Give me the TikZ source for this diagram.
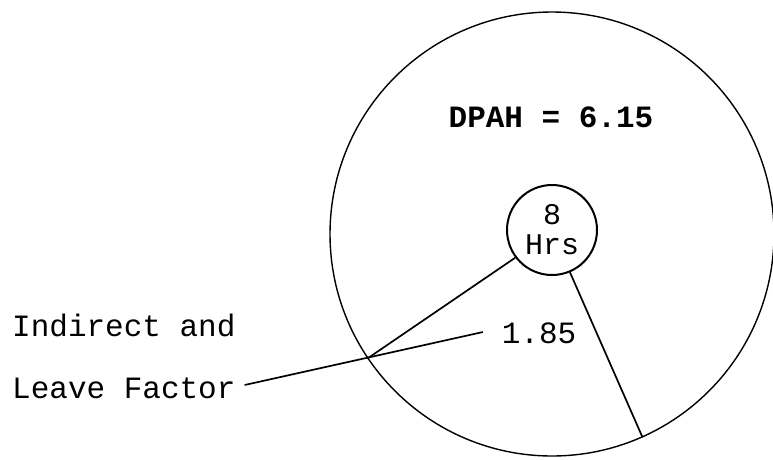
\documentclass[tikz,border=0pt]{standalone}
\usepackage{fontspec}
\newfontfamily\tw{Liberation Mono}
\begin{document}
\begin{tikzpicture}[x=1pt,y=-1pt,
  lbl/.style={font=\tw\fontsize{31}{31}\selectfont, inner sep=0pt},
  ring/.style={draw, circle, inner sep=0pt, line width=1.4pt},
  link/.style={line width=1.7pt}]
\useasboundingbox (0,0) rectangle (773,459);
\node[ring, minimum size=444pt] (big) at (552,234) {};
\node[ring, minimum size=90pt, line width=2pt, align=center, font=\tw\fontsize{30}{30}\selectfont] (small) at (552,230) {8\\Hrs};
\node[lbl, font=\tw\bfseries\fontsize{31}{31}\selectfont] (dpah) at (551,117) {DPAH = 6.15};
\node[lbl] (val) at (539,333) {1.85};
\node[lbl, anchor=west] (ind) at (12,325) {Indirect and};
\node[lbl, anchor=west] (lf) at (12,388) {Leave Factor};
\coordinate (tip) at (483,332);
\draw[link] (small.217) -- (big.214);
\draw[link] (small.293) -- (big.294.6);
\draw[link] ([xshift=9pt,yshift=3pt]lf.east) -- (tip);
\end{tikzpicture}
\end{document}
